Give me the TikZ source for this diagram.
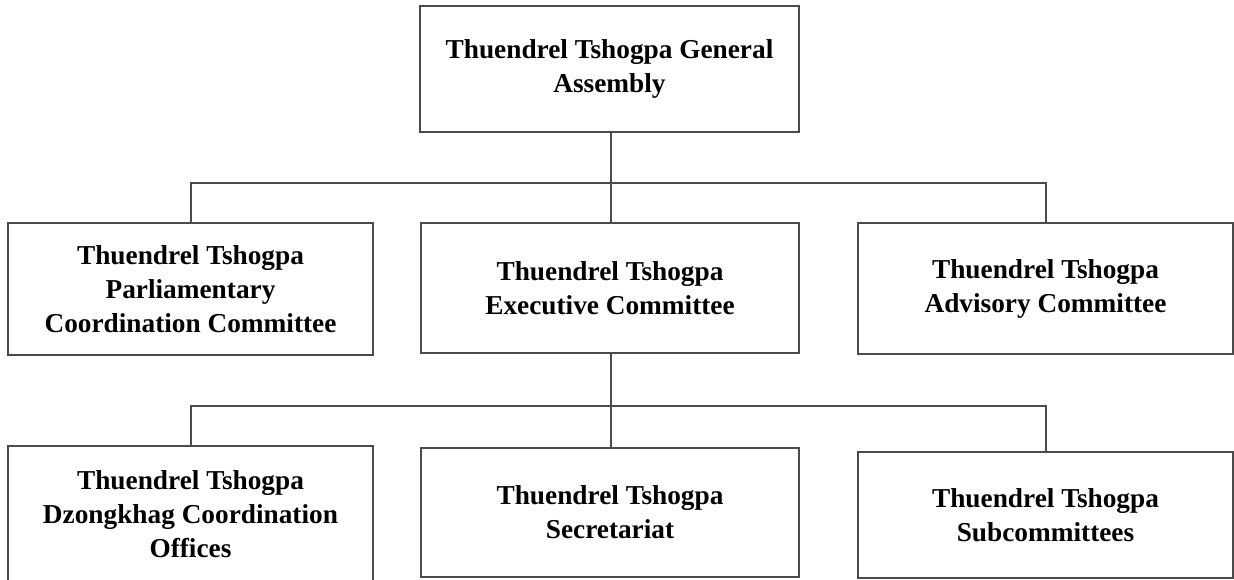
\documentclass[tikz,border=0pt]{standalone}
\usepackage{fontspec}
\setmainfont{Liberation Serif}
\definecolor{linec}{RGB}{75,75,75}
\tikzset{
  orgbox/.style={draw=linec, line width=2pt, rectangle, inner sep=0pt, align=center,
    font=\fontsize{27.3}{34}\selectfont\bfseries, text=black},
  conn/.style={draw=linec, line width=2pt}
}
\begin{document}
\begin{tikzpicture}[x=1pt,y=1pt]
\clip (0,0) rectangle (1234,-579);
\fill[white] (0,0) rectangle (1234,-579);
% top
\node[orgbox, minimum width=379pt, minimum height=126pt] (ga) at (609.5,-69) {Thuendrel Tshogpa General\\Assembly};
% row 2
\node[orgbox, minimum width=365pt, minimum height=132pt] (pc) at (190.5,-289) {Thuendrel Tshogpa\\Parliamentary\\Coordination Committee};
\node[orgbox, minimum width=378pt, minimum height=130pt] (ec) at (610,-288) {Thuendrel Tshogpa\\Executive Committee};
\node[orgbox, minimum width=375pt, minimum height=131pt] (ac) at (1045.5,-288.5) {Thuendrel Tshogpa\\Advisory Committee};
% row 3
\node[orgbox, minimum width=365pt, minimum height=136pt] (dz) at (190.5,-514) {Thuendrel Tshogpa\\Dzongkhag Coordination\\Offices};
\node[orgbox, minimum width=378pt, minimum height=129pt] (se) at (610,-512.5) {Thuendrel Tshogpa\\Secretariat};
\node[orgbox, minimum width=375pt, minimum height=126pt] (sc) at (1045.5,-515) {Thuendrel Tshogpa\\Subcommittees};
% junctions
\coordinate (j1) at (611,-183);
\coordinate (j2) at (611,-406);
% connectors level 1
\draw[conn] (ga.south -| j1) -- (j1);
\draw[conn] (j1) -| (pc.north);
\draw[conn] (j1) -| (ac.north);
\draw[conn] (j1) -- (ec.north -| j1);
% connectors level 2
\draw[conn] (ec.south -| j2) -- (j2);
\draw[conn] (j2) -| (dz.north);
\draw[conn] (j2) -| (sc.north);
\draw[conn] (j2) -- (se.north -| j2);
\end{tikzpicture}
\end{document}
